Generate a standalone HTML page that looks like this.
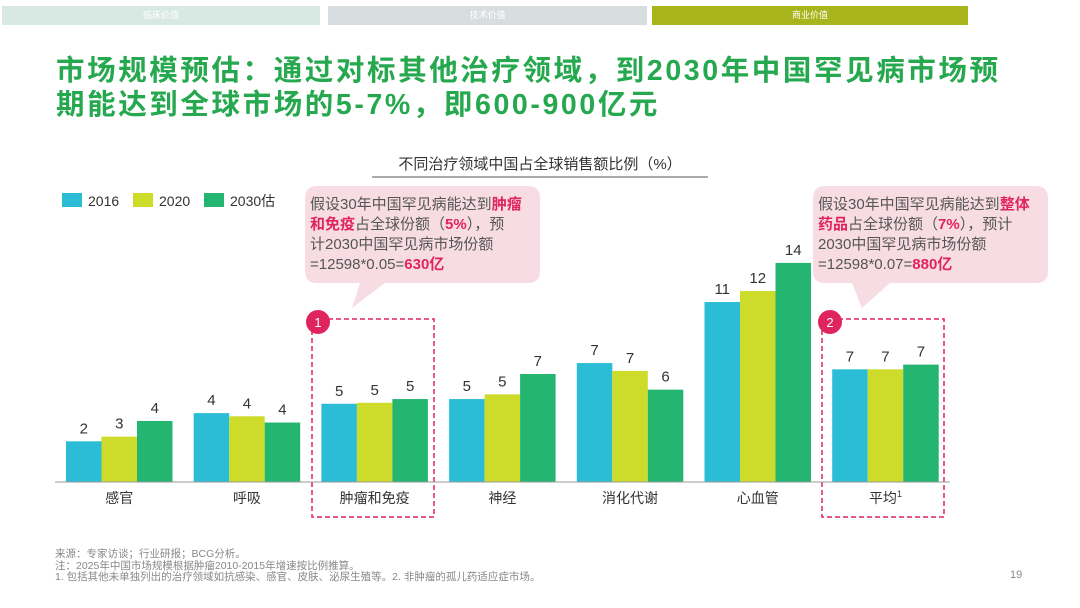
<!DOCTYPE html>
<html><head><meta charset="utf-8"><style>
body{margin:0;background:#fff;font-family:"Liberation Sans","Noto Sans CJK SC",sans-serif;}
#root{position:relative;width:1080px;height:608px;overflow:hidden;}
.tab{position:absolute;top:6px;height:19px;font-size:9px;color:#fff;text-align:center;line-height:19px;}
.title{position:absolute;left:56px;top:54px;font-size:28.5px;letter-spacing:2.6px;font-weight:bold;color:#26a84f;line-height:34px;white-space:nowrap;}
.call{position:absolute;font-size:15px;color:#555;line-height:20px;white-space:nowrap;}
.call b{color:#e0245e;}
.foot{position:absolute;left:55px;top:549px;font-size:10.5px;color:#888;line-height:11.5px;white-space:nowrap;}
</style></head><body>
<div id="root">
<div class="tab" style="left:2px;width:318px;background:#d8e9e4;">临床价值</div>
<div class="tab" style="left:328px;width:319px;background:#d8dde0;">技术价值</div>
<div class="tab" style="left:652px;width:316px;background:#a8b41c;">商业价值</div>
<div class="title">市场规模预估：通过对标其他治疗领域，到2030年中国罕见病市场预<br>期能达到全球市场的5-7%，即600-900亿元</div>
<svg width="1080" height="608" style="position:absolute;left:0;top:0" id="chart">
<text x="540" y="169" text-anchor="middle" font-size="15" fill="#333">不同治疗领域中国占全球销售额比例（%）</text>
<line x1="372" y1="177" x2="708" y2="177" stroke="#555" stroke-width="1"/>
<g>
<rect x="62" y="193" width="20" height="14" fill="#2bbcd6"/><text x="88" y="206" font-size="14" fill="#333">2016</text>
<rect x="133" y="193" width="20" height="14" fill="#cddc2a"/><text x="159" y="206" font-size="14" fill="#333">2020</text>
<rect x="204" y="193" width="20" height="14" fill="#24b571"/><text x="230" y="206" font-size="14" fill="#333">2030估</text>
</g>
<path d="M317 186 H528 Q540 186 540 198 V271 Q540 283 528 283 H385 L352 308 L360 283 H317 Q305 283 305 271 V198 Q305 186 317 186Z" fill="#f7dde3"/>
<path d="M825 186 H1036 Q1048 186 1048 198 V271 Q1048 283 1036 283 H890 L862 308 L852 283 H825 Q813 283 813 271 V198 Q813 186 825 186Z" fill="#f7dde3"/>
<rect x="312" y="319" width="122" height="198" fill="none" stroke="#e0245e" stroke-width="1.5" stroke-dasharray="5,3"/>
<rect x="822" y="319" width="122" height="198" fill="none" stroke="#e0245e" stroke-width="1.5" stroke-dasharray="5,3"/>
<circle cx="318" cy="322" r="12" fill="#e0245e"/><text x="318" y="327" text-anchor="middle" font-size="13" fill="#fff">1</text>
<circle cx="830" cy="322" r="12" fill="#e0245e"/><text x="830" y="327" text-anchor="middle" font-size="13" fill="#fff">2</text>
<g id="bars"></g>
<line x1="55" y1="482" x2="950" y2="482" stroke="#999" stroke-width="1"/>
</svg>
<div class="call" style="left:310px;top:195px;">假设30年中国罕见病能达到<b>肿瘤<br>和免疫</b>占全球份额（<b>5%</b>），预<br>计2030中国罕见病市场份额<br>=12598*0.05=<b>630亿</b></div>
<div class="call" style="left:818px;top:195px;">假设30年中国罕见病能达到<b>整体<br>药品</b>占全球份额（<b>7%</b>），预计<br>2030中国罕见病市场份额<br>=12598*0.07=<b>880亿</b></div>
<div class="foot">来源：专家访谈；行业研报；BCG分析。<br>注：2025年中国市场规模根据肿瘤2010-2015年增速按比例推算。<br>1. 包括其他未单独列出的治疗领域如抗感染、感官、皮肤、泌尿生殖等。2. 非肿瘤的孤儿药适应症市场。</div>
<div style="position:absolute;left:1010px;top:569px;font-size:11px;color:#888">19</div>
</div>
<script>
const categories=["感官","呼吸","肿瘤和免疫","神经","消化代谢","心血管","平均"];
const series2016=[2.6,4.4,5.0,5.3,7.6,11.5,7.2];
const series2020=[2.9,4.2,5.06,5.6,7.1,12.2,7.2];
const series2030=[3.9,3.8,5.3,6.9,5.9,14.0,7.5];
const labels2016=["2","4","5","5","7","11","7"];
const labels2020=["3","4","5","5","7","12","7"];
const labels2030=["4","4","5","7","6","14","7"];
const seriesList=[series2016,series2020,series2030];
const labelList=[labels2016,labels2020,labels2030];
const colors=["#2bbcd6","#cddc2a","#24b571"];
const yScale=v=>482-v*15.65;
const xGroup=i=>66+i*127.7;
const bw=35.5;
const g=document.getElementById('bars');
const NS="http://www.w3.org/2000/svg";
categories.forEach((c,i)=>{
  seriesList.forEach((s,k)=>{
    const r=document.createElementNS(NS,'rect');
    r.setAttribute('x',xGroup(i)+k*bw);r.setAttribute('y',yScale(s[i]));
    r.setAttribute('width',bw);r.setAttribute('height',482-yScale(s[i]));
    r.setAttribute('fill',colors[k]);
    
    
    g.appendChild(r);
    const t=document.createElementNS(NS,'text');
    t.setAttribute('x',xGroup(i)+k*bw+bw/2);t.setAttribute('y',yScale(s[i])-8);
    t.setAttribute('text-anchor','middle');t.setAttribute('font-size','15');t.setAttribute('fill','#333');
    t.textContent=labelList[k][i];
    
    
    g.appendChild(t);
  });
  const t=document.createElementNS(NS,'text');
  t.setAttribute('x',xGroup(i)+bw*1.5);t.setAttribute('y',503);
  t.setAttribute('text-anchor','middle');t.setAttribute('font-size','14');t.setAttribute('fill','#333');
  t.textContent=c;
  if(i===categories.length-1){const sp=document.createElementNS(NS,'tspan');sp.setAttribute('font-size','9');sp.setAttribute('dy','-6');sp.textContent='1';t.appendChild(sp);}
  
  
  g.appendChild(t);
});
</script>
</body></html>
